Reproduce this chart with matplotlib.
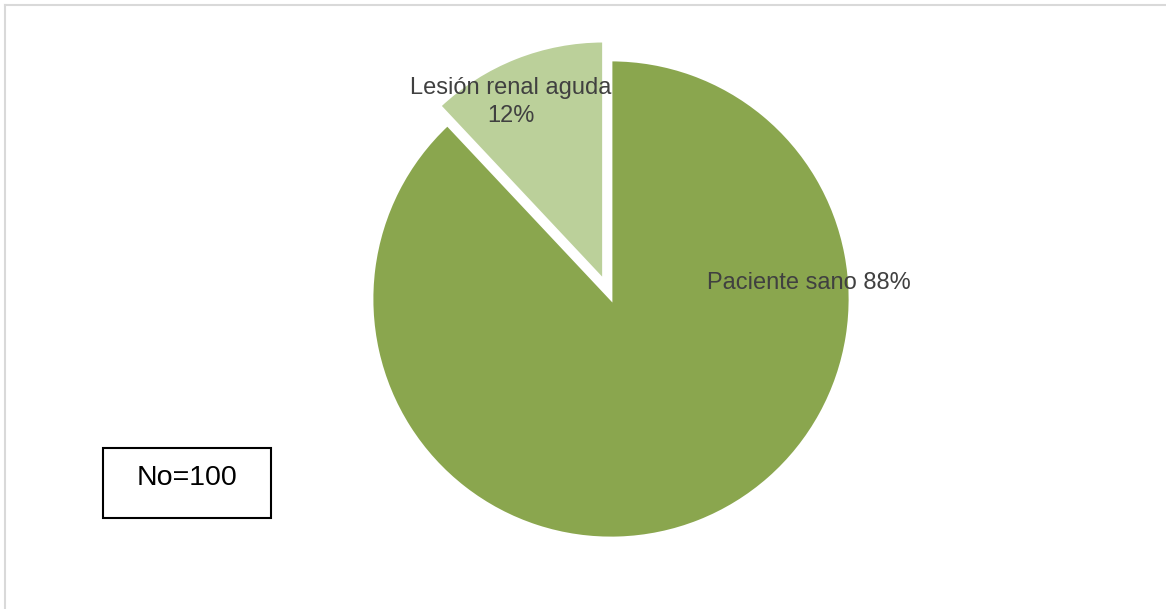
import matplotlib.pyplot as plt
from matplotlib.patches import Rectangle
from matplotlib.lines import Line2D

labels = ['Paciente sano', 'Lesión renal aguda']
values = [88, 12]
colors = ['#8AA64E', '#BBD09A']
explode = [0, 0.085]
total_n = 100

plt.rcParams['font.family'] = ['Liberation Sans', 'DejaVu Sans']

W, H = 1166, 609
fig = plt.figure(figsize=(W / 100, H / 100), dpi=100)

# pie centred at (611, 299) px, radius ~239 px
cx, cy, r, half = 611, 299, 239, 280
ax = fig.add_axes([(cx - half) / W, (H - cy - half) / H, 2 * half / W, 2 * half / H])

wedges, _ = ax.pie(values, colors=colors, explode=explode, startangle=90,
                   counterclock=False, radius=1,
                   wedgeprops=dict(edgecolor='white', linewidth=2))
lim = half / r
ax.set_xlim(-lim, lim)
ax.set_ylim(-lim, lim)
ax.set_aspect('equal')
ax.axis('off')

pct = [round(v / sum(values) * 100) for v in values]
ax.text(0.828, 0.067, f'{labels[0]} {pct[0]}%', ha='center', va='center',
        fontsize=17, color='#404040')
ax.text(-0.418, 0.825, f'{labels[1]}\n{pct[1]}%', ha='center', va='center',
        fontsize=17, color='#404040', linespacing=1.35)

# N box
fig.patches.append(Rectangle((103 / W, 1 - 518 / H), 168 / W, 70 / H,
                             transform=fig.transFigure, fill=False,
                             edgecolor='black', linewidth=1.5))
fig.text(187 / W, 1 - 478 / H, f'No={total_n}', ha='center', va='center',
         fontsize=20.5, color='black')

# chart frame (top and left edges visible)
fig.add_artist(Line2D([5 / W, 1], [1 - 5 / H, 1 - 5 / H], color='#D9D9D9', lw=1.5))
fig.add_artist(Line2D([5 / W, 5 / W], [0, 1 - 5 / H], color='#D9D9D9', lw=1.5))

fig.savefig('out.png', dpi=100)
